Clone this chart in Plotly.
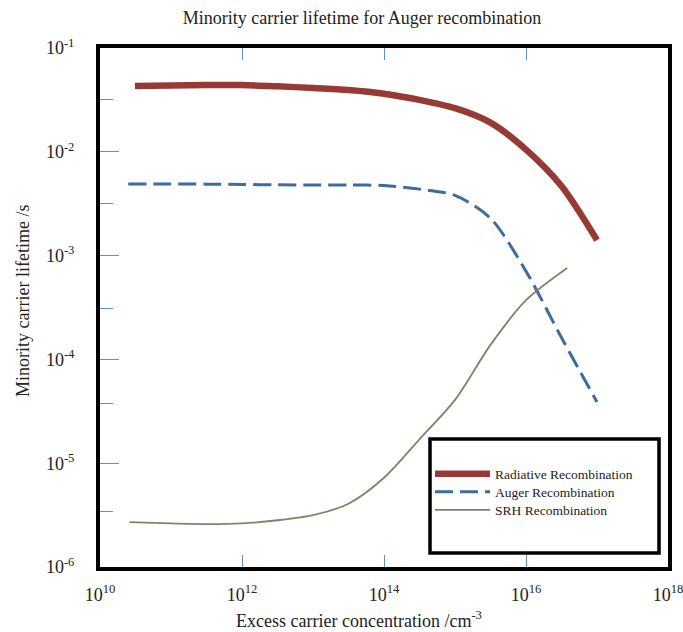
import plotly.graph_objects as go

# ---- data (lifetime in s vs excess carrier concentration in cm^-3)
conc_rad = [3.1e10, 1e11, 3.16e11, 1e12, 3.16e12, 1e13, 3.16e13, 1e14, 3.16e14, 1e15, 3.16e15, 1e16, 3.16e16, 1e17]
tau_rad = [0.0431, 0.0435, 0.0439, 0.0439, 0.0427, 0.0412, 0.0394, 0.0363, 0.0316, 0.0263, 0.0191, 0.0105, 0.00468, 0.00141]

conc_aug = [2.5e10, 1e11, 3.16e11, 1e12, 3.16e12, 1e13, 3.16e13, 1e14, 3.16e14, 1e15, 3.16e15, 1e16, 3.16e16, 1e17]
tau_aug = [4.90e-3, 4.90e-3, 4.88e-3, 4.84e-3, 4.81e-3, 4.79e-3, 4.79e-3, 4.73e-3, 4.37e-3, 3.80e-3, 2.29e-3, 7.08e-4, 1.62e-4, 3.89e-5]

conc_srh = [2.6e10, 1e11, 3.16e11, 1e12, 3.16e12, 1e13, 3.16e13, 1e14, 3.16e14, 1e15, 3.16e15, 1e16, 3.8e16]
tau_srh = [2.71e-6, 2.63e-6, 2.59e-6, 2.63e-6, 2.82e-6, 3.16e-6, 4.07e-6, 7.24e-6, 1.70e-5, 4.07e-5, 1.38e-4, 3.72e-4, 7.59e-4]

series_names = ["Radiative Recombination", "Auger Recombination", "SRH Recombination"]

x_tickvals = [1e10, 1e12, 1e14, 1e16, 1e18]
x_ticktext = ["10<sup>10</sup>", "10<sup>12</sup>", "10<sup>14</sup>", "10<sup>16</sup>", "10<sup>18</sup>"]
y_tickvals = [1e-6, 1e-5, 1e-4, 1e-3, 1e-2, 1e-1]
y_ticktext = ["10<sup>-6</sup>", "10<sup>-5</sup>", "10<sup>-4</sup>", "10<sup>-3</sup>", "10<sup>-2</sup>", "10<sup>-1</sup>"]
y_minor_ticks = [3.4e-6, 3.8e-5, 3.1e-4, 3.2e-3, 3.2e-2]
y_right_ticks = [1.8e-5, 3.1e-4, 5.2e-3]

FONT = "Liberation Serif, Times New Roman, serif"
TICK_BLUE = "#5b8fd6"
TXT = "#222222"

fig = go.Figure()
fig.add_trace(go.Scatter(x=conc_rad, y=tau_rad, mode="lines", name=series_names[0], legend="legend",
                         line=dict(color="#973a36", width=6.5, shape="spline", smoothing=0.8)))
fig.add_trace(go.Scatter(x=conc_aug, y=tau_aug, mode="lines", name=series_names[1], legend="legend2",
                         line=dict(color="#3f6a9f", width=3, dash="18px,7px", shape="spline", smoothing=0.8)))
fig.add_trace(go.Scatter(x=conc_srh, y=tau_srh, mode="lines", name=series_names[2], legend="legend3",
                         line=dict(color="#85806a", width=1.8, shape="spline", smoothing=0.8)))


def leg(yc):
    return dict(x=(430 - 100) / 568, y=(567 - yc) / 519, xanchor="left", yanchor="middle",
                bgcolor="rgba(0,0,0,0)", borderwidth=0, itemwidth=55,
                font=dict(family=FONT, size=13.5, color=TXT))


fig.update_layout(
    width=683, height=632,
    margin=dict(l=100, r=15, t=48, b=65, autoexpand=False),
    plot_bgcolor="white", paper_bgcolor="white",
    font=dict(family=FONT, size=18, color=TXT),
    title=dict(text="Minority carrier lifetime for Auger recombination",
               x=362 / 683, xanchor="center", y=1 - 18 / 632, yanchor="middle",
               font=dict(family=FONT, size=18, color=TXT)),
    showlegend=True,
    legend=leg(474), legend2=leg(492), legend3=leg(510),
    xaxis=dict(type="log", range=[10, 18], tickmode="array", tickvals=x_tickvals, ticktext=x_ticktext,
               ticks="inside", ticklen=12, tickcolor=TICK_BLUE, tickwidth=1,
               showline=True, linecolor="black", linewidth=4, mirror="ticks",
               showgrid=False, zeroline=False, ticklabelstandoff=8, ticklabeloverflow="allow",
               automargin=False,
               tickfont=dict(family=FONT, size=18, color=TXT)),
    yaxis=dict(type="log", range=[-6, -1], tickmode="array", tickvals=y_tickvals, ticktext=y_ticktext,
               ticks="inside", ticklen=19, tickcolor=TICK_BLUE, tickwidth=1,
               minor=dict(tickmode="array", tickvals=y_minor_ticks, ticks="inside", ticklen=13,
                          tickcolor=TICK_BLUE, tickwidth=1, showgrid=False),
               showline=True, linecolor="black", linewidth=4, mirror=True,
               showgrid=False, zeroline=False, ticklabelstandoff=18, ticklabeloverflow="allow",
               automargin=False,
               tickfont=dict(family=FONT, size=18, color=TXT)),
    yaxis2=dict(type="log", range=[-6, -1], overlaying="y", side="right", tickmode="array",
                tickvals=y_right_ticks, ticks="inside", ticklen=10, tickcolor=TICK_BLUE, tickwidth=1,
                showticklabels=False, showline=False, showgrid=False, zeroline=False, automargin=False),
    shapes=[dict(type="rect", xref="paper", yref="paper",
                 x0=(430 - 100) / 568, x1=(659 - 100) / 568,
                 y0=(567 - 553) / 519, y1=(567 - 439) / 519,
                 line=dict(color="black", width=3.5), fillcolor="white", layer="above")],
    annotations=[
        dict(text="Excess carrier concentration /cm<sup>-3</sup>", xref="paper", yref="paper",
             x=(359 - 100) / 568, y=(567 - 619) / 519, xanchor="center", yanchor="middle",
             showarrow=False, font=dict(family=FONT, size=18, color=TXT)),
        dict(text="Minority carrier lifetime /s", xref="paper", yref="paper", textangle=-90,
             x=(23 - 100) / 568, y=(567 - 301) / 519, xanchor="center", yanchor="middle",
             showarrow=False, font=dict(family=FONT, size=18, color=TXT)),
    ],
)

fig.write_html("out.html")
